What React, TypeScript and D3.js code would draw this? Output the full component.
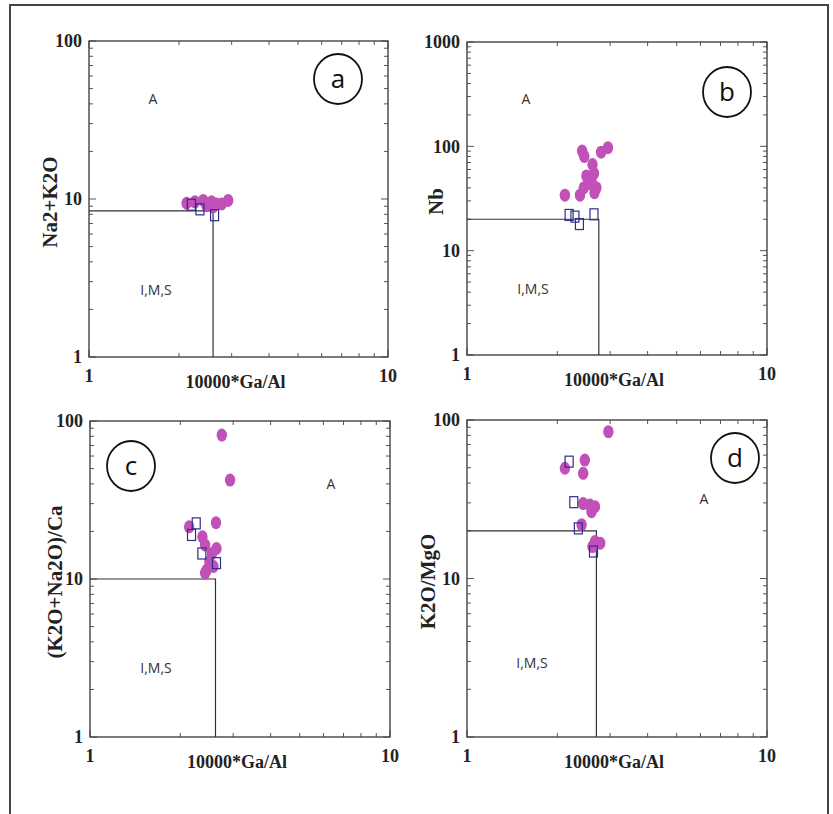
import React, { useRef, useEffect } from 'react';
import * as d3 from 'd3';

const WIDTH = 833;
const HEIGHT = 814;

// axis titles / panel tags
const xTitle = '10000*Ga/Al';
const panelTags = ['a', 'b', 'c', 'd'];
const yTitles = ['Na2+K2O', 'Nb', '(K2O+Na2O)/Ca', 'K2O/MgO'];
const yMax = [100, 1000, 100, 100];
const fieldNames = ['A', 'I,M,S'];

// discrimination boundary (Ga/Al, y) per panel
const boundGaAl = [2.6, 2.75, 2.62, 2.7];
const boundY = [8.4, 20, 10, 20];

// filled circles (10000*Ga/Al, y)
const circA_x = [2.12, 2.26, 2.41, 2.47, 2.57, 2.67, 2.78, 2.92, 2.6];
const circA_y = [9.4, 9.6, 9.8, 9.1, 9.6, 9.3, 9.3, 9.8, 8.9];
const circB_x = [2.12, 2.38, 2.42, 2.46, 2.62, 2.8, 2.95, 2.45, 2.5, 2.6, 2.65, 2.7, 2.66, 2.55];
const circB_y = [34, 34, 90, 80, 67, 88, 97, 40, 52, 47, 55, 40, 36, 44];
const circC_x = [2.75, 2.93, 2.63, 2.14, 2.37, 2.42, 2.55, 2.64, 2.5, 2.45, 2.42, 2.58];
const circC_y = [81.5, 42.3, 22.7, 21.4, 18.5, 16.4, 14.5, 15.6, 12.9, 11.4, 10.9, 12];
const circD_x = [2.96, 2.12, 2.47, 2.44, 2.57, 2.44, 2.67, 2.6, 2.41, 2.67, 2.78, 2.62];
const circD_y = [84.4, 49.6, 55.9, 46.1, 29.1, 29.7, 28.4, 26.4, 21.8, 17.1, 16.7, 15.9];

// open squares
const sqA_x = [2.2, 2.35, 2.63];
const sqA_y = [9.2, 8.6, 7.9];
const sqB_x = [2.19, 2.29, 2.37, 2.65];
const sqB_y = [22, 21.2, 18, 22.3];
const sqC_x = [2.26, 2.18, 2.36, 2.64];
const sqC_y = [22.5, 19, 14.5, 12.6];
const sqD_x = [2.19, 2.27, 2.35, 2.64];
const sqD_y = [54.6, 30.3, 20.7, 14.8];

const circX = [circA_x, circB_x, circC_x, circD_x];
const circY = [circA_y, circB_y, circC_y, circD_y];
const sqX = [sqA_x, sqB_x, sqC_x, sqD_x];
const sqY = [sqA_y, sqB_y, sqC_y, sqD_y];

// layout (pixels)
const boxes = [
  { left: 89, top: 41, w: 299, h: 316, tag: [249, 38], fA: [64, 58], fI: [67, 249], yt: 50 },
  { left: 467, top: 42, w: 300, h: 313, tag: [260, 50], fA: [59, 57], fI: [66, 247], yt: 436 },
  { left: 90, top: 421, w: 300, h: 316, tag: [41, 45], fA: [241, 63], fI: [66, 247], yt: 55 },
  { left: 467, top: 420, w: 300, h: 317, tag: [268, 38], fA: [237, 79], fI: [65, 243], yt: 428 }
];

const SERIF = '"Liberation Serif", "Times New Roman", serif';
const SANS = '"Open Sans", "DejaVu Sans", sans-serif';

function drawPanel(svg: any, i: number) {
  const b = boxes[i];
  const x = d3.scaleLog().domain([1, 10]).range([b.left, b.left + b.w]);
  const y = d3.scaleLog().domain([1, yMax[i]]).range([b.top + b.h, b.top]);
  const bottom = b.top + b.h;
  const right = b.left + b.w;
  const g = svg.append('g');

  const isMajor = (v: number) => Math.abs(Math.log10(v) - Math.round(Math.log10(v))) < 1e-6;

  // inward ticks on all four sides
  x.ticks().forEach((v: number) => {
    const len = isMajor(v) ? 7 : 4;
    g.append('line').attr('x1', x(v)).attr('x2', x(v)).attr('y1', bottom).attr('y2', bottom - len);
    g.append('line').attr('x1', x(v)).attr('x2', x(v)).attr('y1', b.top).attr('y2', b.top + len);
  });
  y.ticks().forEach((v: number) => {
    const len = isMajor(v) ? 7 : 4;
    g.append('line').attr('x1', b.left).attr('x2', b.left + len).attr('y1', y(v)).attr('y2', y(v));
    g.append('line').attr('x1', right).attr('x2', right - len).attr('y1', y(v)).attr('y2', y(v));
  });
  g.selectAll('line').attr('stroke', '#555').attr('stroke-width', 1);

  g.append('rect')
    .attr('x', b.left).attr('y', b.top)
    .attr('width', b.w).attr('height', b.h)
    .attr('fill', 'none').attr('stroke', '#444').attr('stroke-width', 1.4);

  // tick labels
  x.ticks().filter(isMajor).forEach((v: number) => {
    g.append('text')
      .attr('x', x(v)).attr('y', bottom + 25)
      .attr('text-anchor', 'middle')
      .attr('font-family', SERIF).attr('font-weight', 'bold').attr('font-size', 18)
      .attr('fill', '#222')
      .text(d3.format('d')(v));
  });
  y.ticks().filter(isMajor).forEach((v: number) => {
    g.append('text')
      .attr('x', b.left - 7).attr('y', y(v)).attr('dy', '0.35em')
      .attr('text-anchor', 'end')
      .attr('font-family', SERIF).attr('font-weight', 'bold').attr('font-size', 18)
      .attr('fill', '#222')
      .text(d3.format('d')(v));
  });

  // axis titles
  g.append('text')
    .attr('x', (b.left + right) / 2 - 3).attr('y', bottom + 31)
    .attr('text-anchor', 'middle')
    .attr('font-family', SERIF).attr('font-weight', 'bold').attr('font-size', 18)
    .attr('fill', '#222')
    .text(xTitle);
  g.append('text')
    .attr('transform', `translate(${b.yt},${(b.top + bottom) / 2 + 3}) rotate(-90)`)
    .attr('dy', '0.35em')
    .attr('text-anchor', 'middle')
    .attr('font-family', SERIF).attr('font-weight', 'bold').attr('font-size', 21)
    .attr('fill', '#222')
    .text(yTitles[i]);

  // boundary of I,M,S field
  const line = d3.line<number[]>().x(d => x(d[0])).y(d => y(d[1]));
  g.append('path')
    .datum([[1, boundY[i]], [boundGaAl[i], boundY[i]], [boundGaAl[i], 1]])
    .attr('fill', 'none').attr('stroke', '#333').attr('stroke-width', 1.2)
    .attr('d', line);

  // field names
  [b.fA, b.fI].forEach((p, k) => {
    g.append('text')
      .attr('x', b.left + p[0]).attr('y', b.top + p[1]).attr('dy', '0.35em')
      .attr('text-anchor', 'middle')
      .attr('font-family', SANS).attr('font-size', 14)
      .attr('fill', '#333')
      .text(fieldNames[k]);
  });

  // samples
  const pts = circX[i].map((v, k) => [v, circY[i][k]]);
  g.append('g').selectAll('ellipse').data(pts).join('ellipse')
    .attr('cx', (d: number[]) => x(d[0]))
    .attr('cy', (d: number[]) => y(d[1]))
    .attr('rx', 5.2).attr('ry', 6.5)
    .attr('fill', '#c150b9');
  const sq = sqX[i].map((v, k) => [v, sqY[i][k]]);
  g.append('g').selectAll('rect').data(sq).join('rect')
    .attr('x', (d: number[]) => x(d[0]) - 4)
    .attr('y', (d: number[]) => y(d[1]) - 5.5)
    .attr('width', 8).attr('height', 11)
    .attr('fill', 'none').attr('stroke', '#2b2f8c').attr('stroke-width', 1.2);

  // panel tag
  g.append('ellipse')
    .attr('cx', b.left + b.tag[0]).attr('cy', b.top + b.tag[1])
    .attr('rx', 24).attr('ry', 25)
    .attr('fill', 'white').attr('stroke', '#111').attr('stroke-width', 1.8);
  g.append('text')
    .attr('x', b.left + b.tag[0]).attr('y', b.top + b.tag[1]).attr('dy', '0.35em')
    .attr('text-anchor', 'middle')
    .attr('font-family', SANS).attr('font-size', 26)
    .attr('fill', '#111')
    .text(panelTags[i]);
}

export default function App() {
  const ref = useRef<SVGSVGElement>(null);

  useEffect(() => {
    const svg = d3.select(ref.current);
    svg.selectAll('*').remove();

    svg.append('rect').attr('width', WIDTH).attr('height', HEIGHT).attr('fill', 'white');
    // outer frame, runs off the bottom edge
    svg.append('rect')
      .attr('x', 10).attr('y', 5).attr('width', 818).attr('height', 840)
      .attr('fill', 'none').attr('stroke', '#444').attr('stroke-width', 2);

    panelTags.forEach((_, i) => drawPanel(svg, i));
  }, []);

  return (
    <svg
      ref={ref}
      width={WIDTH}
      height={HEIGHT}
      style={{ position: 'absolute', left: 0, top: 0 }}
    />
  );
}
